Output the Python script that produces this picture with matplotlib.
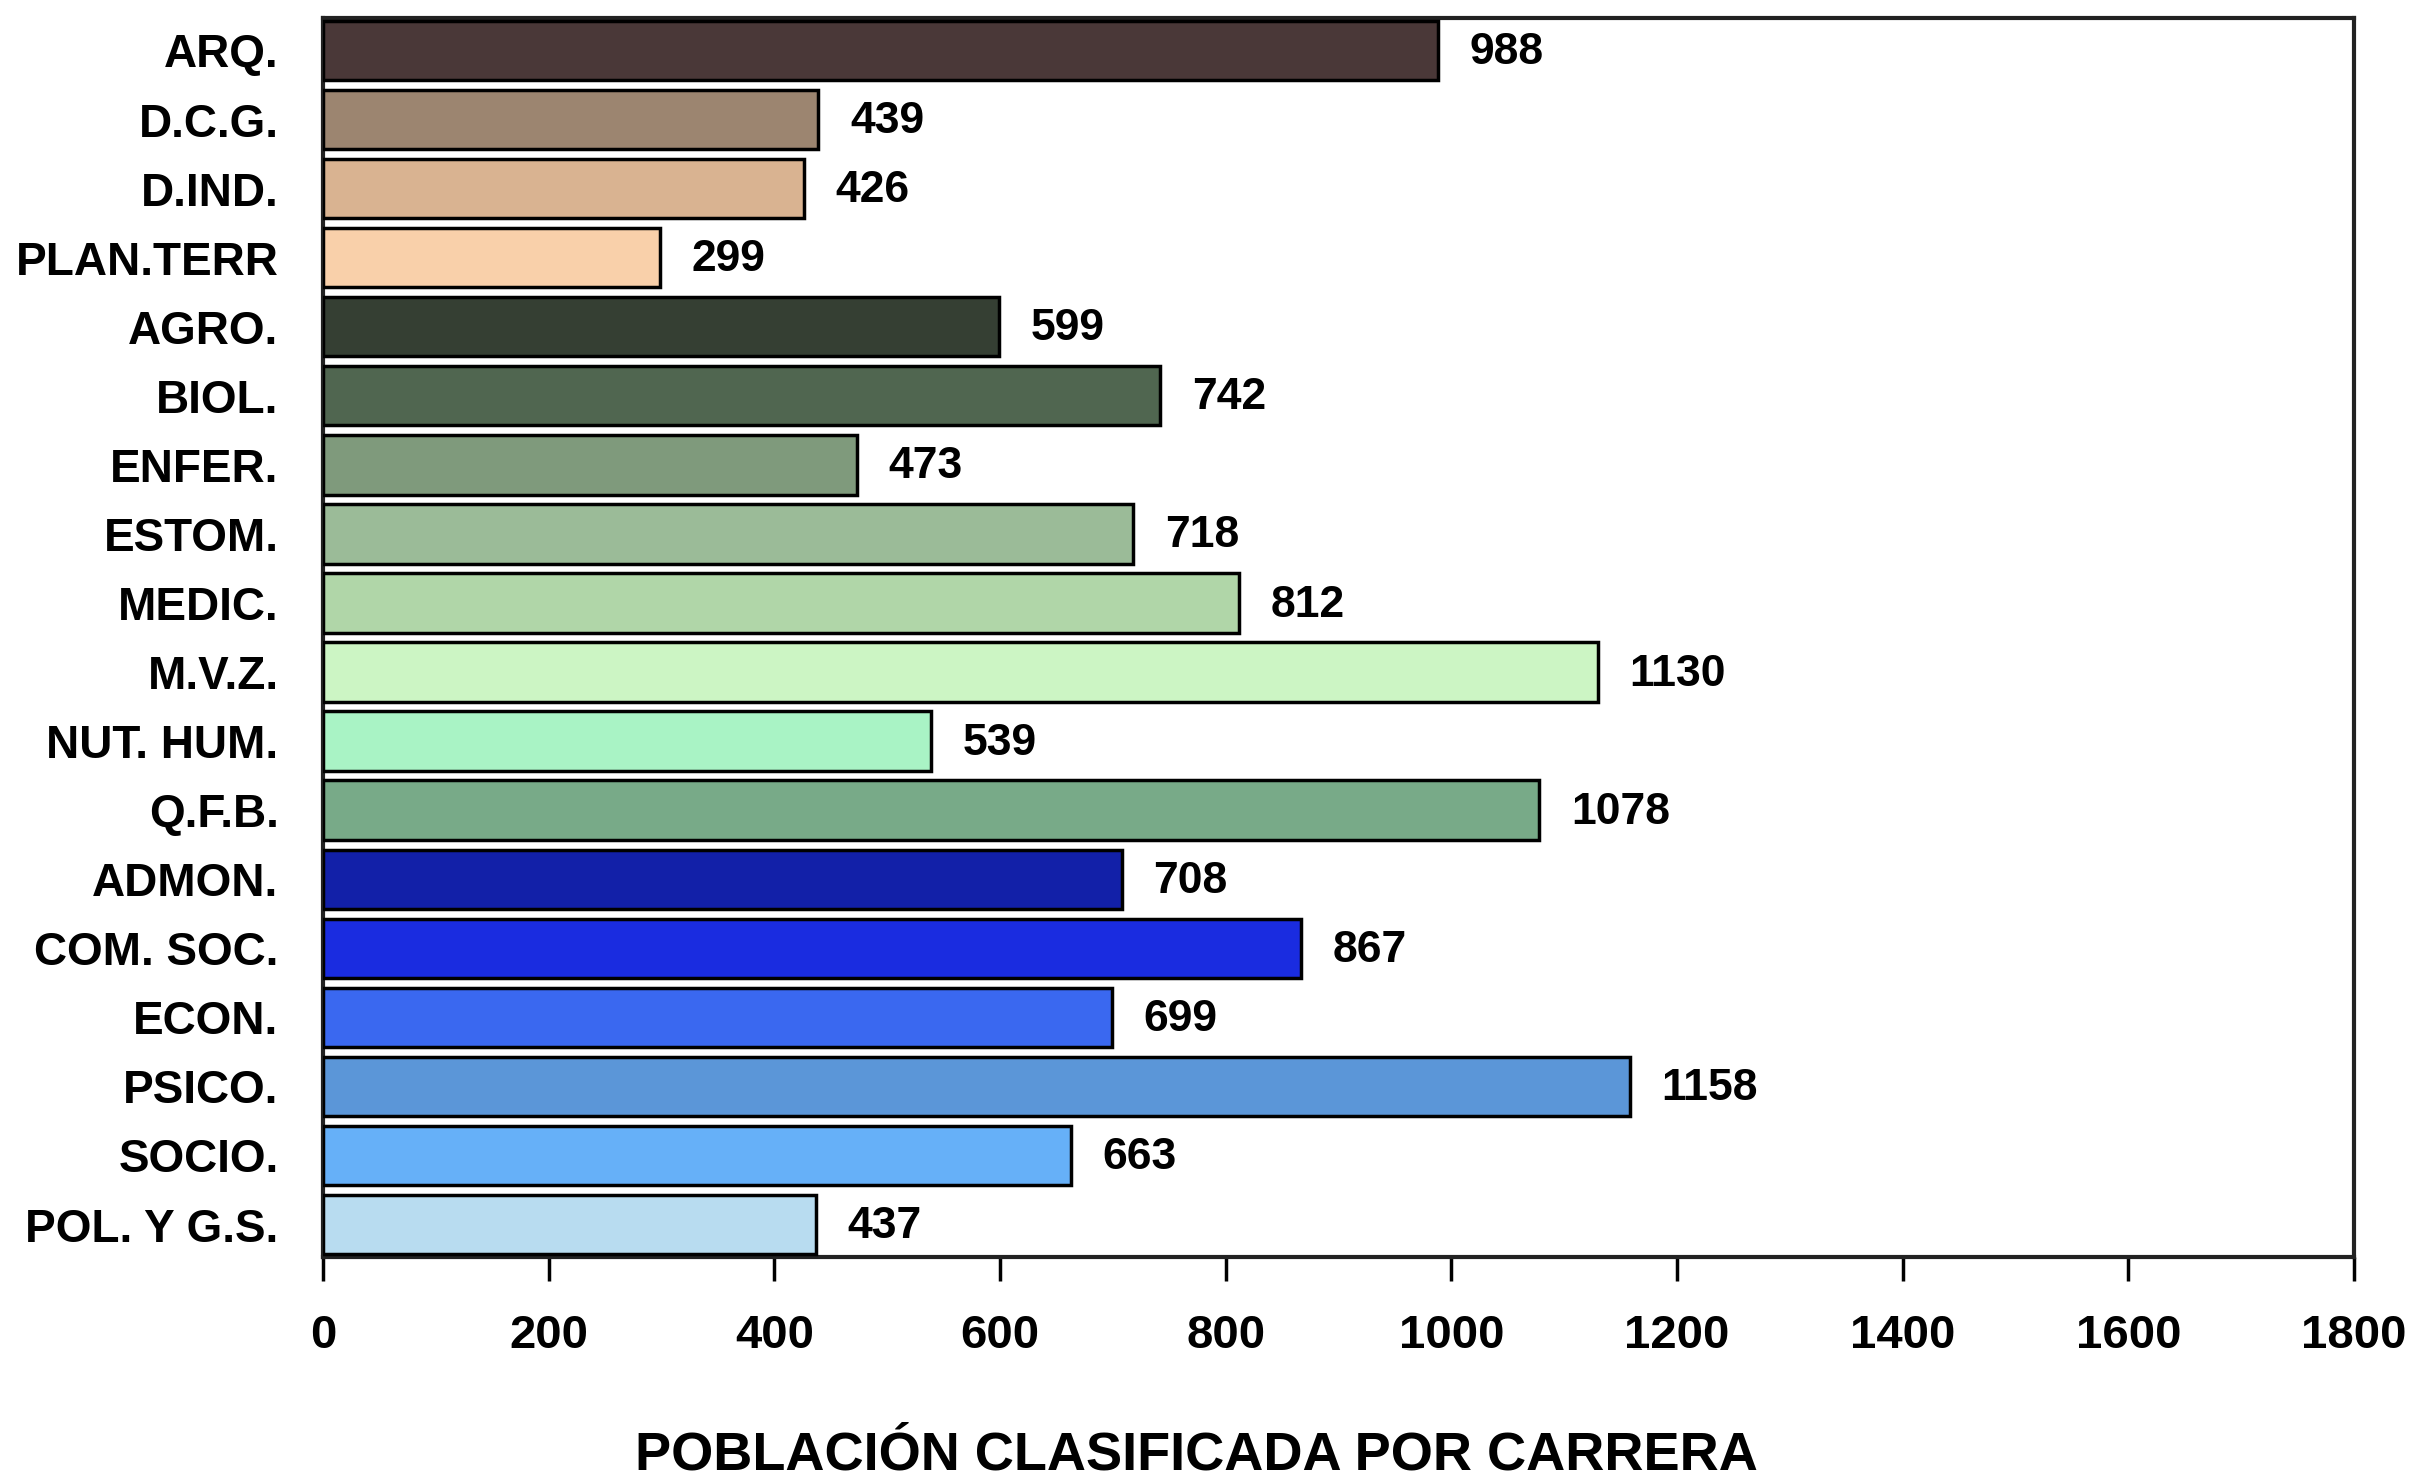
import matplotlib
matplotlib.use("Agg")
import matplotlib.pyplot as plt

categories = ["ARQ.", "D.C.G.", "D.IND.", "PLAN.TERR", "AGRO.", "BIOL.", "ENFER.",
              "ESTOM.", "MEDIC.", "M.V.Z.", "NUT. HUM.", "Q.F.B.", "ADMON.",
              "COM. SOC.", "ECON.", "PSICO.", "SOCIO.", "POL. Y G.S."]
values = [988, 439, 426, 299, 599, 742, 473, 718, 812, 1130, 539, 1078,
          708, 867, 699, 1158, 663, 437]
colors = ["#4a3838", "#9c8570", "#d9b391", "#f9d0aa", "#353f33", "#506650",
          "#7f9a7c", "#9bbb98", "#b0d6a8", "#ccf5c4", "#a9f3c5", "#78aa88",
          "#1220a8", "#1a2ce0", "#3a68f0", "#5b96d8", "#66b0f8", "#b8dcf0"]
xticks = [0, 200, 400, 600, 800, 1000, 1200, 1400, 1600, 1800]
title = "POBLACIÓN CLASIFICADA POR CARRERA"

plt.rcParams['font.family'] = ['Liberation Sans', 'DejaVu Sans']
plt.rcParams['font.weight'] = 'bold'

fig = plt.figure(figsize=(24.09, 14.81), dpi=100)
ax = fig.add_axes([323/2409, 1 - 1257/1481, (2354-323)/2409, (1257-18)/1481])

y = list(range(len(categories)))
ax.barh(y, values, height=0.86, color=colors, edgecolor="black", linewidth=2.5, zorder=3)
for yi, v in zip(y, values):
    ax.text(v + 28, yi + 0.03, str(v), va="center", ha="left", fontsize=32, fontweight="bold")

ax.set_ylim(len(categories) - 0.53, -0.47)
ax.set_xlim(0, 1800)
ax.set_yticks(y)
ax.set_yticklabels(categories, fontsize=33, fontweight="bold")
ax.set_xticks(xticks)
ax.set_xticklabels([str(t) for t in xticks], fontsize=34, fontweight="bold")
ax.tick_params(axis="y", length=0, pad=32)
ax.tick_params(axis="x", direction="out", length=17, width=2.5, pad=24)
for s in ax.spines.values():
    s.set_linewidth(3)
    s.set_color("#222222")

fig.text(779/1568, 1 - 1455/1481, title, ha="center", va="center",
         fontsize=39, fontweight="bold")

fig.savefig("out.png", dpi=100)
